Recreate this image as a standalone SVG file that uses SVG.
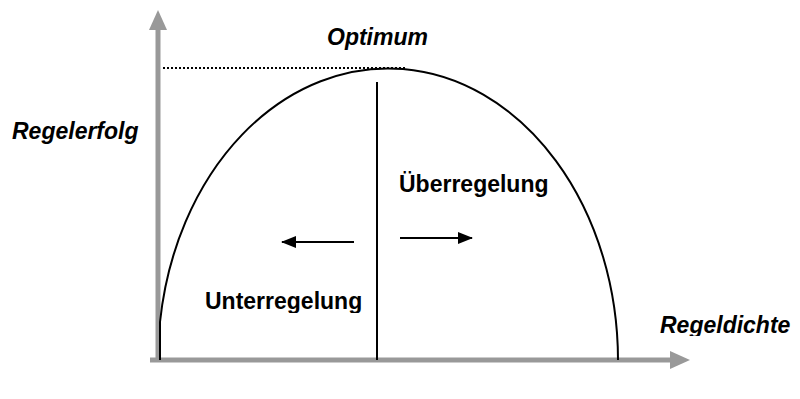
<svg xmlns="http://www.w3.org/2000/svg" width="800" height="399" viewBox="0 0 800 399">
<style>
.lbl{font-family:"Liberation Sans",Arial,sans-serif;font-weight:bold;font-size:23px;fill:#000}
.it{font-style:italic}
.ax{stroke:#999;stroke-width:5;fill:none}
.ln{stroke:#000;stroke-width:2;fill:none}
</style>
<defs>
<marker id="ah" markerWidth="15" markerHeight="12" refX="14" refY="6" orient="auto" markerUnits="userSpaceOnUse"><path d="M0,0 L15,6 L0,12 z" fill="#000"/></marker>
<clipPath id="c1"><rect x="0" y="0" width="800" height="313"/></clipPath>
<clipPath id="c2"><rect x="0" y="0" width="800" height="336"/></clipPath>
</defs>
<g id="axes">
<line class="ax" x1="158" y1="362" x2="158" y2="28"/>
<polygon points="158,10 149,30 167,30" fill="#999"/>
<line class="ax" x1="150" y1="360" x2="672" y2="360"/>
<polygon points="690,360 670,351 670,369" fill="#999"/>
</g>
<g id="curve">
<path class="ln" d="M160,360 L160,322 A230,292 0 0 1 618,360"/>
</g>
<g id="connectors">
<line x1="163" y1="68" x2="405" y2="68" stroke="#000" stroke-width="2" stroke-dasharray="2,2"/>
<line class="ln" x1="377" y1="82" x2="377" y2="360"/>
<line class="ln" x1="354" y1="242" x2="282" y2="242" marker-end="url(#ah)"/>
<line class="ln" x1="400" y1="238" x2="472" y2="238" marker-end="url(#ah)"/>
</g>
<g id="optimum"><text class="lbl it" x="327" y="45">Optimum</text></g>
<g id="regelerfolg"><text class="lbl it" x="12" y="139">Regelerfolg</text></g>
<g id="ueberregelung"><text class="lbl" x="399" y="192">Überregelung</text></g>
<g id="unterregelung" clip-path="url(#c1)"><text class="lbl" x="205" y="309">Unterregelung</text></g>
<g id="regeldichte" clip-path="url(#c2)"><text class="lbl it" x="660" y="333">Regeldichte</text></g>
</svg>
